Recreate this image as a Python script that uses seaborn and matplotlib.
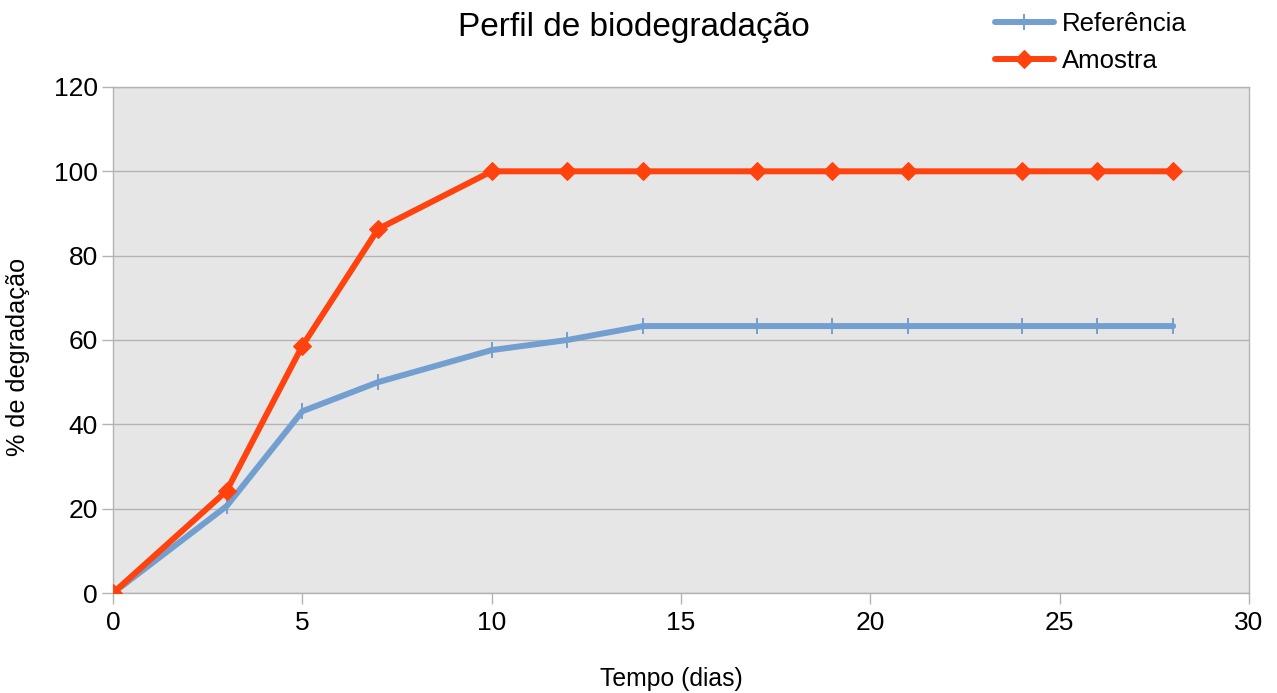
import pandas as pd
import matplotlib.pyplot as plt
import seaborn as sns

# dados
dias = [0, 3, 5, 7, 10, 12, 14, 17, 19, 21, 24, 26, 28]
referencia = [0, 20.6, 43.1, 50.0, 57.6, 60.0, 63.3, 63.3, 63.3, 63.3, 63.3, 63.3, 63.3]
amostra = [0, 24.2, 58.6, 86.3, 100, 100, 100, 100, 100, 100, 100, 100, 100]

df = pd.DataFrame({"Tempo": dias, "Referência": referencia, "Amostra": amostra})

sns.set_style("white")
plt.rcParams['font.family'] = ['Liberation Sans', 'DejaVu Sans']
plt.rcParams['text.color'] = 'black'
plt.rcParams['axes.labelcolor'] = 'black'
plt.rcParams['xtick.color'] = 'black'
plt.rcParams['ytick.color'] = 'black'

fig = plt.figure(figsize=(12.77, 6.93), dpi=100)
ax = fig.add_axes([0.0885, 0.1443, 0.8895, 0.7302])
ax.set_facecolor("#e6e6e6")

sns.lineplot(data=df, x="Tempo", y="Referência", ax=ax, color="#729fcf", linewidth=4.3,
             marker="|", markersize=11, markeredgewidth=1.4, markeredgecolor="#729fcf",
             label="Referência", zorder=3)
sns.lineplot(data=df, x="Tempo", y="Amostra", ax=ax, color="#ff420e", linewidth=4.3,
             marker="D", markersize=9.5, markeredgecolor="#ff420e",
             label="Amostra", zorder=4)

ax.set_xlim(0, 30)
ax.set_ylim(0, 120)
ax.set_xticks(range(0, 31, 5))
ax.set_yticks(range(0, 121, 20))
ax.grid(axis="y", color="#b3b3b3", linewidth=1)
ax.set_axisbelow(True)
for s in ax.spines.values():
    s.set_color("#b3b3b3")
    s.set_linewidth(1)
ax.tick_params(axis="both", labelsize=19, length=8, color="#b3b3b3", width=1, direction="out",
               bottom=True, left=True, labelcolor="black")
ax.tick_params(axis="x", pad=5)
ax.tick_params(axis="y", pad=3)
ax.set_xlabel("Tempo (dias)", fontsize=17.8)
ax.set_ylabel("% de degradação", fontsize=18.2)
ax.xaxis.set_label_coords(0.492, -0.146)
ax.yaxis.set_label_coords(-0.073, 0.466)

fig.text(0.4965, 0.96, "Perfil de biodegradação", fontsize=24, ha="center", va="center")

ax.get_legend().remove()
h, l = ax.get_legend_handles_labels()
fig.legend(h, l, loc="upper left", bbox_to_anchor=(0.779, 0.982), frameon=False,
           borderaxespad=0, borderpad=0, fontsize=18.5, handlelength=2.3,
           handletextpad=0.3, labelspacing=0.5)

plt.savefig("out.png", dpi=100)
plt.close()
